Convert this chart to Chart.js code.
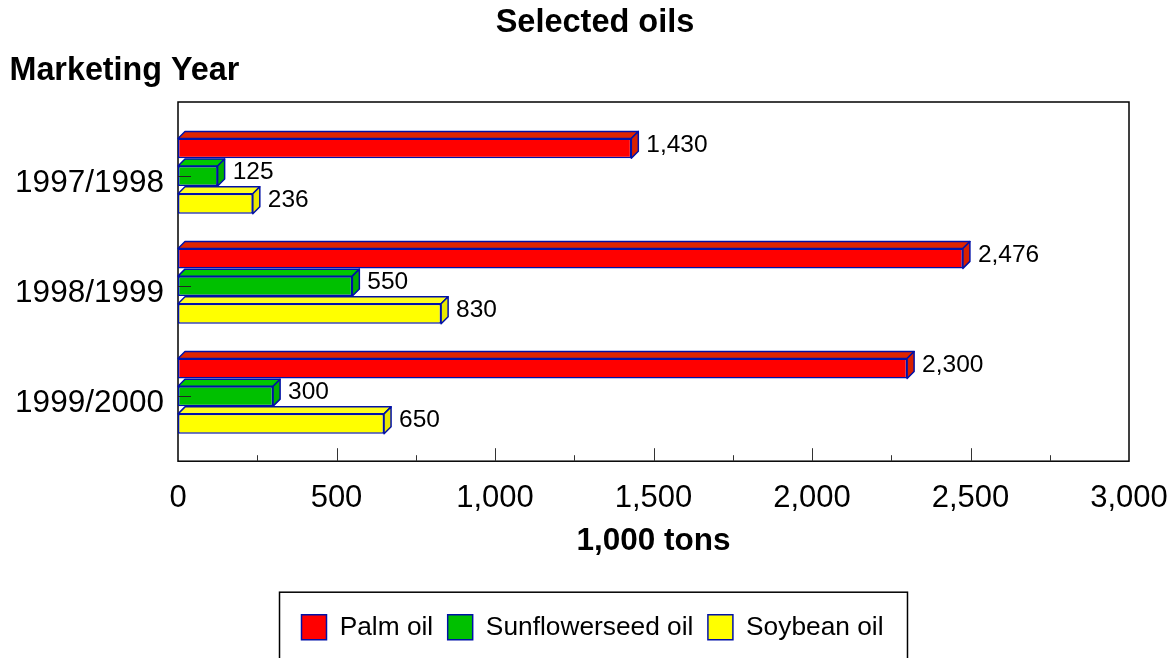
<!DOCTYPE html>
<html>
<head>
<meta charset="utf-8">
<script src="https://cdn.jsdelivr.net/npm/chart.js@4/dist/chart.umd.min.js"></script>
<style>
  html, body { margin: 0; padding: 0; background: #fff; }
  #wrap { width: 1175px; height: 658px; }
</style>
</head>
<body>
<div id="wrap"><canvas id="chart"></canvas></div>
<script>
// data
const years = ["1997/1998", "1998/1999", "1999/2000"];
const seriesNames = ["Palm oil", "Sunflowerseed oil", "Soybean oil"];
const palmOil = [1430, 2476, 2300];
const sunflowerOil = [125, 550, 300];
const soybeanOil = [236, 830, 650];
const xTicks = [0, 500, 1000, 1500, 2000, 2500, 3000];
const chartTitle = "Selected oils";
const yTitle = "Marketing Year";
const xTitle = "1,000 tons";

const frontColors = ["#ff0000", "#00c000", "#ffff00"];
const topColors = ["#e02400", "#00c800", "#ffff20"];
const sideColors = ["#d82000", "#00b000", "#e8e800"];
const edge = "#0010a8";
const depth = 7;
const font = "'Liberation Sans', Arial, sans-serif";

const fmt = v => Number(v).toLocaleString("en-US");

// frame, titles, minor ticks
const framePlugin = {
    id: "frame",
    beforeDatasetsDraw(chart) {
        const { ctx, chartArea: a } = chart;
        ctx.save();
        ctx.strokeStyle = "#000";
        ctx.lineWidth = 1.5;
        ctx.strokeRect(a.left, a.top - 19, a.right - a.left, a.bottom + 10 - (a.top - 19));
        // ticks on the bottom edge, inside the frame
        const xs = chart.scales.x;
        ctx.lineWidth = 1;
        ctx.strokeStyle = "#333";
        for (let v = 250; v < 3000; v += 250) {
            const px = Math.round(xs.getPixelForValue(v)) + 0.5;
            const len = v % 500 === 0 ? 13 : 6;
            ctx.beginPath();
            ctx.moveTo(px, a.bottom + 10);
            ctx.lineTo(px, a.bottom + 10 - len);
            ctx.stroke();
        }
        ctx.restore();
    },
    afterDraw(chart) {
        const { ctx } = chart;
        ctx.save();
        ctx.fillStyle = "#000";
        ctx.textBaseline = "middle";
        ctx.font = "bold 32.5px " + font;
        ctx.textAlign = "center";
        ctx.fillText(chartTitle, 595, 23);
        ctx.font = "bold 32.3px " + font;
        ctx.textAlign = "left";
        ctx.fillText(yTitle, 9.5, 71);

        // border round the legend
        const boxes = chart.legend.legendHitBoxes;
        if (boxes && boxes.length) {
            const first = boxes[0], last = boxes[boxes.length - 1];
            ctx.strokeStyle = "#000";
            ctx.lineWidth = 1.5;
            const l = first.left - 22, t = first.top - 22;
            ctx.strokeRect(l, t, last.left + last.width + 24 - l, 700 - t);
        }
        ctx.restore();
    }
};

// 3D faces, y ticks, value labels
const barsPlugin = {
    id: "bars3d",
    afterDatasetsDraw(chart) {
        const { ctx } = chart;
        ctx.save();
        ctx.lineWidth = 1.5;
        ctx.lineJoin = "round";
        ctx.strokeStyle = edge;
        chart.data.datasets.forEach((ds, di) => {
            const meta = chart.getDatasetMeta(di);
            meta.data.forEach((bar, i) => {
                const p = bar.getProps(["x", "y", "base", "height"], true);
                const top = p.y - p.height / 2, bot = p.y + p.height / 2;
                const l = p.base, r = p.x;
                ctx.fillStyle = topColors[di];
                ctx.beginPath();
                ctx.moveTo(l, top);
                ctx.lineTo(l + depth, top - depth);
                ctx.lineTo(r + depth, top - depth);
                ctx.lineTo(r, top);
                ctx.closePath();
                ctx.fill();
                ctx.stroke();
                ctx.fillStyle = sideColors[di];
                ctx.beginPath();
                ctx.moveTo(r, top);
                ctx.lineTo(r + depth, top - depth);
                ctx.lineTo(r + depth, bot - depth);
                ctx.lineTo(r, bot);
                ctx.closePath();
                ctx.fill();
                ctx.stroke();

                ctx.fillStyle = "#000";
                ctx.font = "24.5px " + font;
                ctx.textAlign = "left";
                ctx.textBaseline = "middle";
                ctx.fillText(fmt(ds.data[i]), r + depth + 8, p.y - depth / 2);
            });
        });
        const ys = chart.scales.y;
        ctx.strokeStyle = "#222";
        ctx.lineWidth = 1;
        years.forEach((y, i) => {
            const py = Math.round(ys.getPixelForTick(i)) + 0.5;
            ctx.beginPath();
            ctx.moveTo(chart.chartArea.left, py);
            ctx.lineTo(chart.chartArea.left + 13, py);
            ctx.stroke();
        });
        ctx.restore();
    }
};

const values = [palmOil, sunflowerOil, soybeanOil];

new Chart(document.getElementById("chart"), {
    type: "bar",
    data: {
        labels: years,
        datasets: values.map((d, i) => ({
            label: seriesNames[i],
            data: d,
            backgroundColor: frontColors[i],
            borderColor: edge,
            borderWidth: 1.5,
            borderSkipped: false,
            categoryPercentage: 0.754,
            barPercentage: 0.72
        }))
    },
    options: {
        indexAxis: "y",
        responsive: true,
        maintainAspectRatio: false,
        animation: false,
        layout: { padding: { top: 121, left: 10, right: 0, bottom: 7.5 } },
        scales: {
            x: {
                type: "linear",
                min: 0,
                max: 3000,
                afterBuildTicks: s => { s.ticks = xTicks.map(v => ({ value: v })); },
                afterFit: s => { s.height = 148.5; },
                grid: { display: false, drawTicks: false },
                border: { display: false },
                ticks: {
                    color: "#000",
                    font: { family: font, size: 31, lineHeight: 2.72 },
                    padding: 5,
                    maxRotation: 0,
                    callback: v => fmt(v)
                },
                title: {
                    display: true,
                    text: xTitle,
                    color: "#000",
                    font: { family: font, size: 31.5, weight: "bold" },
                    padding: { top: 0, bottom: 39.6 }
                }
            },
            y: {
                type: "category",
                offset: true,
                grid: { display: false, drawTicks: false },
                border: { display: false },
                ticks: {
                    color: "#000",
                    font: { family: font, size: 31.5 },
                    padding: 14,
                    labelOffset: 7
                },
                afterFit: s => { s.width = 168; }
            },
            yRight: {
                type: "linear",
                position: "right",
                grid: { display: false, drawTicks: false },
                border: { display: false },
                ticks: { display: false },
                afterFit: s => { s.width = 46; }
            }
        },
        plugins: {
            title: { display: false },
            tooltip: { enabled: false },
            legend: {
                position: "bottom",
                labels: {
                    color: "#000",
                    font: { family: font, size: 26.3 },
                    boxWidth: 25,
                    boxHeight: 25,
                    padding: 14.5
                }
            }
        }
    },
    plugins: [framePlugin, barsPlugin]
});
</script>
</body>
</html>
